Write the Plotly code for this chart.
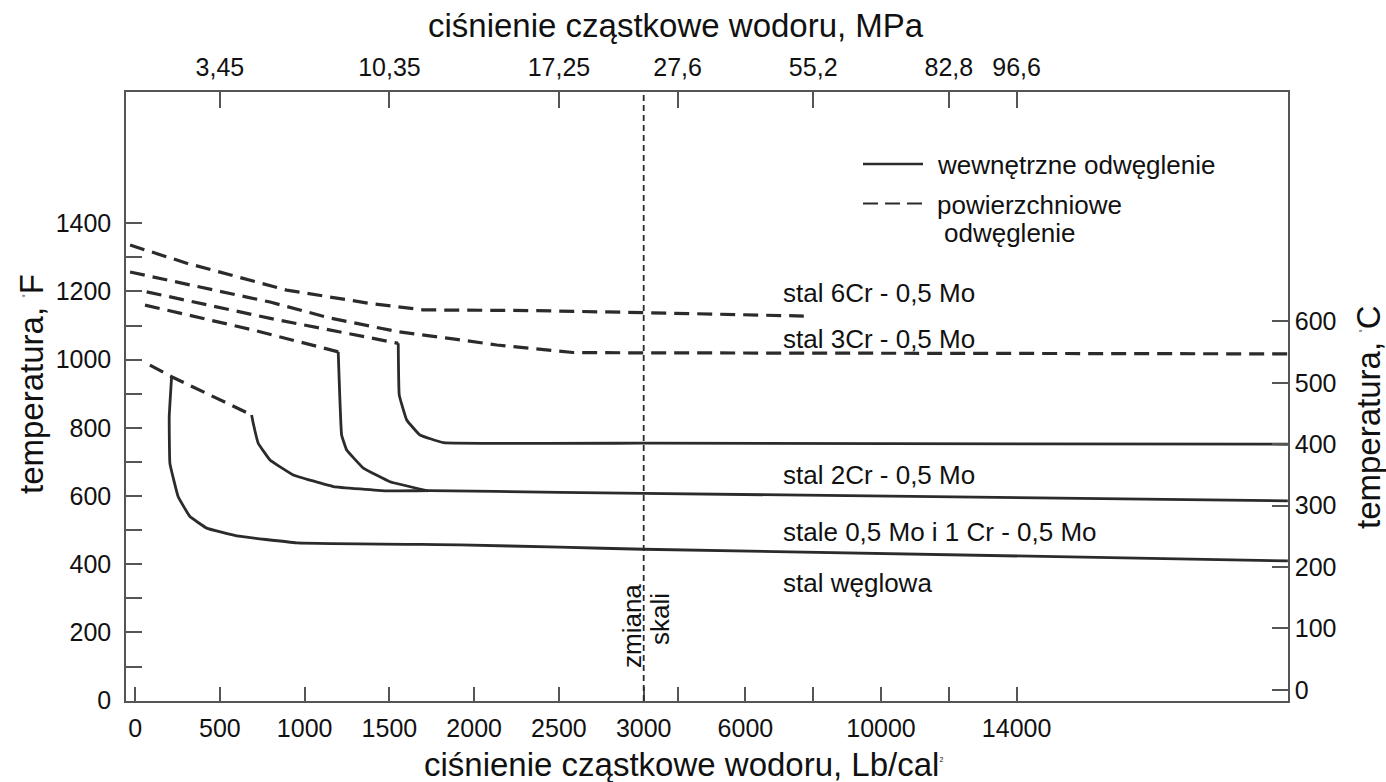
import plotly.graph_objects as go

# ---------------- data (pressure in psi = Lb/cal^2, temperature in deg F) ----------------
SCALE_BREAK = 3000      # "zmiana skali" – scale change
RIGHT_RATIO = 0.2       # compression of the scale beyond the break

# internal decarburization (solid lines)
solid1_psi = [215, 201, 205, 254, 323, 422, 599, 953, 1916, 2506, 3000, 22000]
solid1_F = [950, 833, 696, 598, 540, 506, 483, 463, 457, 450, 444, 410]

solid2_psi = [687, 697, 726, 795, 933, 1169, 1484, 1739, 2506, 3000, 22000]
solid2_F = [838, 813, 755, 706, 662, 628, 615, 616, 611, 608, 586]

solid3_psi = [1198, 1218, 1248, 1346, 1503, 1727]
solid3_F = [1023, 779, 735, 682, 642, 615]

solid4_psi = [1552, 1558, 1602, 1680, 1818, 3000, 22000]
solid4_F = [1048, 896, 823, 779, 757, 755, 752]

# surface decarburization (dashed lines)
dash1_psi = [-30, 304, 894, 1385, 1698, 2329, 2996, 7723]
dash1_F = [1336, 1283, 1204, 1165, 1146, 1144, 1138, 1128]

dash2_psi = [-30, 382, 796, 1150, 1550, 1875, 2134, 2583, 3000, 22000]
dash2_F = [1257, 1213, 1169, 1122, 1082, 1061, 1043, 1021, 1020, 1017]

dash3_psi = [68, 382, 797, 1552]
dash3_F = [1199, 1166, 1121, 1048]

dash4_psi = [58, 697, 1198]
dash4_F = [1160, 1087, 1023]

dash5_psi = [87, 215, 687]
dash5_F = [984, 950, 838]

# axis ticks
bottom_tick_psi = [0, 500, 1000, 1500, 2000, 2500, 3000, 4000, 6000, 8000, 10000, 12000, 14000]
bottom_tick_text = ["0", "500", "1000", "1500", "2000", "2500", "3000", "", "6000", "", "10000", "", "14000"]
top_tick_psi = [500, 1500, 2500, 4000, 8000, 12000, 14000]
top_tick_text = ["3,45", "10,35", "17,25", "27,6", "55,2", "82,8", "96,6"]
F_ticks = list(range(0, 1401, 100))
F_tick_text = [str(v) if v % 200 == 0 else "" for v in F_ticks]
C_ticks = [0, 100, 200, 300, 400, 500, 600]

labels_text = ["stal 6Cr - 0,5 Mo", "stal 3Cr - 0,5 Mo", "stal 2Cr - 0,5 Mo",
               "stale 0,5 Mo i 1 Cr - 0,5 Mo", "stal węglowa"]

# ---------------- scales ----------------
X_MIN, X_MAX = -54, 6801
F_MIN, F_MAX = -1, 1785


def sx(p):
    return p if p <= SCALE_BREAK else SCALE_BREAK + (p - SCALE_BREAK) * RIGHT_RATIO


def f2c(f):
    return (f - 32) * 5.0 / 9.0


W, H = 1386, 782
ML, MR, MT, MB = 126, 98, 92, 81
PW, PH = W - ML - MR, H - MT - MB


def px(x):
    return (x - ML) / PW


def py(y):
    return (H - MB - y) / PH


INK = "#2b2b2b"
AX = "#555555"
FONT = "Arial, Liberation Sans, sans-serif"

fig = go.Figure()

for xs, ys in [(solid1_psi, solid1_F), (solid2_psi, solid2_F),
               (solid3_psi, solid3_F), (solid4_psi, solid4_F)]:
    fig.add_trace(go.Scatter(x=[sx(v) for v in xs], y=ys, mode="lines",
                             line=dict(color=INK, width=2.8, shape="spline", smoothing=0.25),
                             hoverinfo="skip", showlegend=False))

for xs, ys in [(dash1_psi, dash1_F), (dash2_psi, dash2_F), (dash3_psi, dash3_F),
               (dash4_psi, dash4_F), (dash5_psi, dash5_F)]:
    fig.add_trace(go.Scatter(x=[sx(v) for v in xs], y=ys, mode="lines",
                             line=dict(color=INK, width=3.2, dash="15px,8px"),
                             hoverinfo="skip", showlegend=False))

# invisible trace for the secondary axes
fig.add_trace(go.Scatter(x=[X_MIN, X_MAX], y=[f2c(F_MIN), f2c(F_MAX)], xaxis="x2", yaxis="y2",
                         mode="markers", marker=dict(opacity=0), hoverinfo="skip",
                         showlegend=False))

tickfont = dict(family=FONT, size=25, color="#111")

fig.update_layout(
    width=W, height=H,
    margin=dict(l=ML, r=MR, t=MT, b=MB),
    paper_bgcolor="white", plot_bgcolor="white",
    showlegend=False,
    xaxis=dict(range=[X_MIN, X_MAX], tickvals=[sx(v) for v in bottom_tick_psi],
               ticktext=bottom_tick_text, ticks="inside", ticklen=14, tickwidth=1.5,
               tickcolor=AX, showline=True, linecolor=AX, linewidth=1.5,
               showgrid=False, zeroline=False, tickfont=tickfont, ticklabelstandoff=4),
    xaxis2=dict(range=[X_MIN, X_MAX], overlaying="x", side="top", anchor="y",
                tickvals=[sx(v) for v in top_tick_psi], ticktext=top_tick_text,
                ticks="inside", ticklen=16, tickwidth=1.5, tickcolor=AX,
                showline=True, linecolor=AX, linewidth=1.5, showgrid=False,
                zeroline=False, tickfont=tickfont, ticklabelstandoff=4),
    yaxis=dict(range=[F_MIN, F_MAX], tickvals=F_ticks, ticktext=F_tick_text,
               ticks="inside", ticklen=16, tickwidth=1.5, tickcolor=AX,
               showline=True, linecolor=AX, linewidth=1.5, showgrid=False,
               zeroline=False, tickfont=tickfont, ticklabelstandoff=8),
    yaxis2=dict(range=[f2c(F_MIN), f2c(F_MAX)], overlaying="y", side="right", anchor="x",
                tickvals=C_ticks, ticks="inside", ticklen=16, tickwidth=1.5, tickcolor=AX,
                showline=True, linecolor=AX, linewidth=1.5, showgrid=False,
                zeroline=False, tickfont=tickfont, ticklabelstandoff=0),
)

# scale-change vertical line
fig.add_shape(type="line", xref="x", yref="paper", x0=sx(SCALE_BREAK), x1=sx(SCALE_BREAK),
              y0=0, y1=1, line=dict(color=INK, width=1.8, dash="6px,4px"))

# legend
fig.add_shape(type="line", xref="paper", yref="paper", x0=px(863), x1=px(923),
              y0=py(164), y1=py(164), line=dict(color=INK, width=2.5))
fig.add_shape(type="line", xref="paper", yref="paper", x0=px(863), x1=px(922),
              y0=py(203.5), y1=py(203.5), line=dict(color=INK, width=2.2, dash="15px,7px"))

ann = []


def text(x, y, s, size=26, angle=0, xa="left"):
    ann.append(dict(xref="paper", yref="paper", x=px(x), y=py(y), text=s, showarrow=False,
                    xanchor=xa, yanchor="middle", textangle=angle,
                    font=dict(family=FONT, size=size, color="#111")))


text(935, 165, "wewnętrzne odwęglenie")
text(935, 205, "powierzchniowe")
text(942, 233, "odwęglenie")

label_y = [293, 339, 475, 532, 583]
for s, yy in zip(labels_text, label_y):
    text(781, yy, s)

text(632, 626, "zmiana", size=26, angle=-90, xa="center")
text(660, 619, "skali", size=26, angle=-90, xa="center")

# axis titles
text(676, 26, "ciśnienie cząstkowe wodoru, MPa", size=33, xa="center")
text(683, 764, "ciśnienie cząstkowe wodoru, Lb/cal<sup><span style='font-size:7px'>2</span></sup>",
     size=33, xa="center")
text(31, 384, "temperatura, <sup><span style='font-size:9px'>°</span></sup>F", size=33, angle=-90,
     xa="center")
text(1368, 417, "temperatura, <sup><span style='font-size:9px'>°</span></sup>C", size=33, angle=-90,
     xa="center")

fig.update_layout(annotations=ann)

fig.write_html("out.html", config={"displayModeBar": False},
               post_script="document.documentElement.style.margin='0';"
                           "document.body.style.margin='0';"
                           "document.body.style.overflow='hidden';")
